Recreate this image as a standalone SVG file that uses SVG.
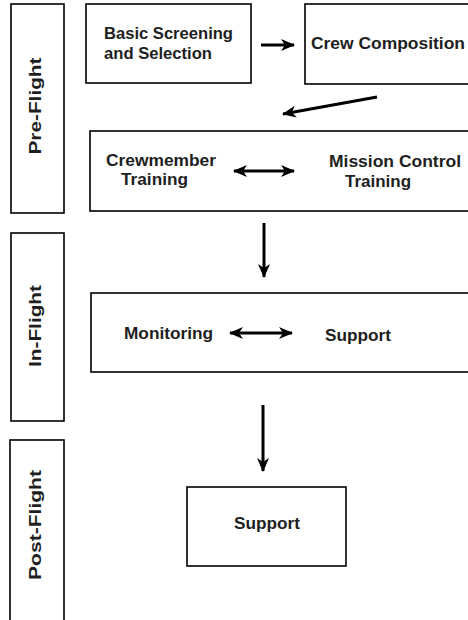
<svg xmlns="http://www.w3.org/2000/svg" width="468" height="620" viewBox="0 0 468 620">
<style>
rect.box{fill:#fff;stroke:#000;stroke-width:1.6}
text{font-family:"Liberation Sans",Arial,sans-serif;font-weight:bold;font-size:16px;fill:#1e1e1e}
.side{text-anchor:middle;font-size:17px}
line.c{stroke:#000;stroke-width:3;fill:none}
</style>
<defs>
<marker id="ah" markerUnits="userSpaceOnUse" markerWidth="15" markerHeight="12" refX="13" refY="6" orient="auto-start-reverse" viewBox="0 0 15 12">
<path d="M0,0 L14,6 L0,12 L4,6 z" fill="#000"/>
</marker>
</defs>
<rect width="468" height="620" fill="#fff"/>
<g id="phase-preflight">
<rect class="box" x="11" y="4" width="53" height="209"/>
<text class="side" transform="translate(41,106) rotate(-90)" textLength="97" lengthAdjust="spacingAndGlyphs">Pre-Flight</text>
</g>
<g id="phase-inflight">
<rect class="box" x="11" y="233" width="53" height="188"/>
<text class="side" transform="translate(41,326) rotate(-90)" textLength="82" lengthAdjust="spacingAndGlyphs">In-Flight</text>
</g>
<g id="phase-postflight">
<rect class="box" x="10" y="440" width="54" height="184"/>
<text class="side" transform="translate(41,525) rotate(-90)" textLength="110" lengthAdjust="spacingAndGlyphs">Post-Flight</text>
</g>
<g id="screening">
<rect class="box" x="86" y="4" width="165" height="79"/>
<text x="104" y="39" textLength="129" lengthAdjust="spacingAndGlyphs">Basic Screening</text>
<text x="104" y="59" textLength="108" lengthAdjust="spacingAndGlyphs">and Selection</text>
</g>
<g id="crew-composition">
<rect class="box" x="305" y="4" width="166" height="80"/>
<text x="311" y="49" textLength="154" lengthAdjust="spacingAndGlyphs">Crew Composition</text>
</g>
<g id="training">
<rect class="box" x="90" y="131" width="381" height="80"/>
<text x="106" y="166" textLength="110" lengthAdjust="spacingAndGlyphs">Crewmember</text>
<text x="121" y="185" textLength="67" lengthAdjust="spacingAndGlyphs">Training</text>
<text x="329" y="167" textLength="132" lengthAdjust="spacingAndGlyphs">Mission Control</text>
<text x="345" y="187" textLength="66" lengthAdjust="spacingAndGlyphs">Training</text>
</g>
<g id="inflight">
<rect class="box" x="91" y="293" width="380" height="79"/>
<text x="124" y="339" textLength="89" lengthAdjust="spacingAndGlyphs">Monitoring</text>
<text x="325" y="341" textLength="66" lengthAdjust="spacingAndGlyphs">Support</text>
</g>
<g id="postflight-support">
<rect class="box" x="187" y="487" width="159" height="79"/>
<text x="234" y="529" textLength="66" lengthAdjust="spacingAndGlyphs">Support</text>
</g>
<g id="connectors">
<line class="c" x1="261" y1="45" x2="294" y2="45" marker-end="url(#ah)"/>
<line class="c" x1="377" y1="97" x2="283" y2="114" marker-end="url(#ah)"/>
<line class="c" x1="234" y1="171" x2="294" y2="171" marker-start="url(#ah)" marker-end="url(#ah)"/>
<line class="c" x1="264" y1="223" x2="264" y2="277" marker-end="url(#ah)"/>
<line class="c" x1="230" y1="333" x2="292" y2="333" marker-start="url(#ah)" marker-end="url(#ah)"/>
<line class="c" x1="263" y1="405" x2="263" y2="471" marker-end="url(#ah)"/>
</g>
</svg>
